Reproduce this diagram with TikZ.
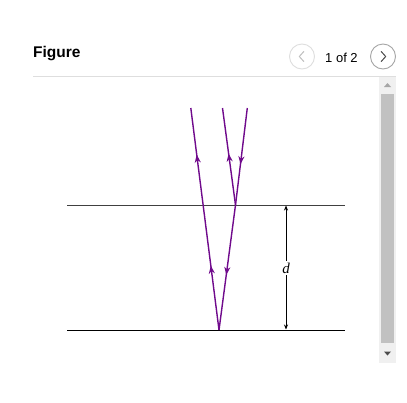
\documentclass[tikz,border=0pt]{standalone}
\usepackage{fontspec}
\setmainfont{Liberation Sans}
\newfontfamily\serifit{Liberation Serif}
\usetikzlibrary{decorations.markings,arrows.meta}
\definecolor{ray}{RGB}{112,10,140}
\definecolor{sepgray}{RGB}{222,222,222}
\definecolor{trackgray}{RGB}{240,240,240}
\definecolor{thumbgray}{RGB}{193,193,193}
\tikzset{
  tip/.tip={Stealth[length=8pt,width=6pt,inset=2.5pt]},
  raypath/.style={draw=ray, line width=1.4pt},
  rayarrow/.style={postaction={decorate,decoration={markings,
     mark=at position #1 with {\arrow{tip}}}}},
  surface/.style={draw=black, line width=0.9pt},
  dimline/.style={draw=black, line width=0.7pt, {Stealth[length=5pt,width=4pt]}-{Stealth[length=5pt,width=4pt]}},
  navbtn/.style={circle, minimum size=25pt, inner sep=0pt, line width=0.9pt},
}
\begin{document}
\begin{tikzpicture}[x=1pt,y=-1pt]
\useasboundingbox[fill=white] (0,0) rectangle (407,402);
% header
\node[anchor=west, font=\bfseries\fontsize{15.5}{18}\selectfont, inner sep=0pt] (title) at (33,54) {Figure};
\node[navbtn, draw=sepgray] (prev) at (302,56.5) {};
\draw[color=black!25, line width=1pt, line cap=round, line join=round] ([xshift=1.8pt,yshift=-5pt]prev.center) -- ([xshift=-2.7pt]prev.center) -- ([xshift=1.8pt,yshift=5pt]prev.center);
\node[anchor=west, font=\fontsize{13}{15}\selectfont, inner sep=0pt] (count) at (325,57.5) {1 of 2};
\node[navbtn, draw=black!35] (next) at (383,56.5) {};
\draw[color=black!70, line width=1pt, line cap=round, line join=round] ([xshift=-1.8pt,yshift=-5pt]next.center) -- ([xshift=2.7pt]next.center) -- ([xshift=-1.8pt,yshift=5pt]next.center);
\coordinate (sepL) at (33,76.5);
\coordinate (sepR) at (396,76.5);
\draw[sepgray, line width=1pt] (sepL) -- (sepR);
% scrollbar
\fill[trackgray] (379,77) rectangle (396,363);
\fill[thumbgray] (381,94) rectangle (394,343);
\fill[black!35] (384,87) -- (391,87) -- (387.5,83) -- cycle;
\fill[black!70] (384,351.5) -- (391,351.5) -- (387.5,355.5) -- cycle;
% surfaces
\coordinate (t1) at (67,205); \coordinate (t2) at (345,205);
\coordinate (b1) at (67,330); \coordinate (b2) at (345,330);
\draw[surface, draw=black!75] (t1) -- (t2);
\draw[surface] (b1) -- (b2);
% dimension
\coordinate (dtop) at (286,205.5);
\coordinate (dbot) at (286,329.5);
\draw[dimline] (dtop) -- (dbot);
\node[font=\serifit\itshape\fontsize{15}{17}\selectfont, fill=white, inner sep=1.5pt] (dlab) at (286,268) {d};
% rays
\coordinate (B) at (219,330);
\coordinate (S) at (235.5,205);
\coordinate (R1) at (190.8,108);
\coordinate (I) at (247.3,108);
\coordinate (R2) at (222.5,108);
\draw[raypath, rayarrow=0.29, postaction={decorate,decoration={markings,mark=at position 0.79 with {\arrow{tip}}}}] (B) -- (R1);
\draw[raypath, rayarrow=0.58] (I) -- (S);
\draw[raypath, rayarrow=0.56] (S) -- (B);
\draw[raypath, rayarrow=0.53] (S) -- (R2);
\end{tikzpicture}
\end{document}
